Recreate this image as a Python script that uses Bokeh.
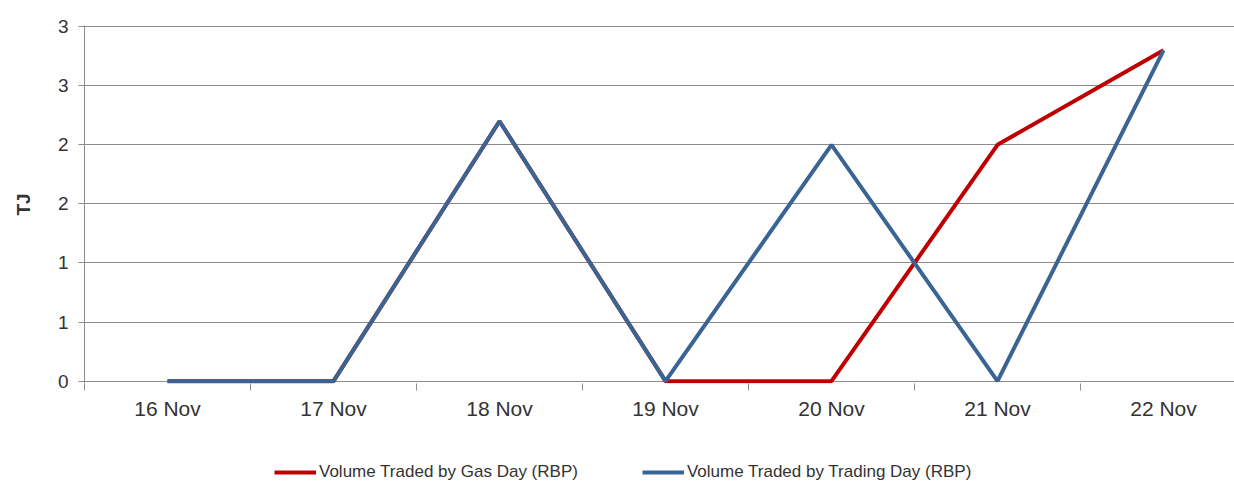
from bokeh.plotting import figure
from bokeh.layouts import column
from bokeh.models import (Range1d, FixedTicker, Legend, LegendItem, ColumnDataSource)
from bokeh.embed import file_html
from bokeh.resources import INLINE

# ---- data ----
categories = ["16 Nov", "17 Nov", "18 Nov", "19 Nov", "20 Nov", "21 Nov", "22 Nov"]
gas_day = [0.0, 0.0, 2.2, 0.0, 0.0, 2.0, 2.8]
trading_day = [0.0, 0.0, 2.2, 0.0, 2.0, 0.0, 2.8]
y_ticks = [0, 0.5, 1.0, 1.5, 2.0, 2.5, 3.0]
y_tick_labels = ["0", "1", "1", "2", "2", "3", "3"]
series_names = ["Volume Traded by Gas Day (RBP)", "Volume Traded by Trading Day (RBP)"]

FONT = "Liberation Sans"
RED = "#C00000"
BLUE = "#3A6494"
GRID = "#8C8C8C"
TEXT = "#333333"
LW = 4

idx = list(range(len(categories)))
src = ColumnDataSource(dict(x=idx, gas=gas_day, trade=trading_day))

p = figure(width=1234, height=440, output_backend="svg", toolbar_location=None,
           x_range=Range1d(-0.5, -0.5 + 1150 / 166.0), y_range=Range1d(-0.02, 3.01),
           min_border_left=84, min_border_right=0, min_border_top=25, min_border_bottom=57)
p.outline_line_color = None
p.background_fill_color = "white"

r_gas = p.line("x", "gas", source=src, line_color=RED, line_width=LW)
r_trade = p.line("x", "trade", source=src, line_color=BLUE, line_width=LW)

# x axis
xa = p.xaxis[0]
xa.ticker = FixedTicker(ticks=idx, minor_ticks=[i - 0.5 for i in range(len(categories) + 1)])
xa.major_label_overrides = {i: c for i, c in zip(idx, categories)}
xa.major_tick_line_color = None
xa.major_tick_out = 0
xa.major_tick_in = 0
xa.minor_tick_line_color = GRID
xa.minor_tick_out = 7
xa.minor_tick_in = 0
xa.axis_line_color = None
xa.major_label_text_font = FONT
xa.major_label_text_font_size = "21px"
xa.major_label_text_color = TEXT
xa.major_label_standoff = 6

# y axis
ya = p.yaxis[0]
ya.ticker = FixedTicker(ticks=y_ticks, minor_ticks=[])
ya.major_label_overrides = {t: l for t, l in zip(y_ticks, y_tick_labels)}
ya.axis_line_color = GRID
ya.major_tick_line_color = GRID
ya.major_tick_out = 6
ya.major_tick_in = 0
ya.minor_tick_line_color = None
ya.major_label_text_font = FONT
ya.major_label_text_font_size = "19px"
ya.major_label_text_color = TEXT
ya.major_label_standoff = 10
ya.axis_label = "TJ"
ya.axis_label_text_font = FONT
ya.axis_label_text_font_style = "bold"
ya.axis_label_text_font_size = "19px"
ya.axis_label_text_color = TEXT
ya.axis_label_standoff = 21

p.xgrid.grid_line_color = None
p.ygrid.grid_line_color = GRID
p.ygrid.grid_line_width = 1

# ---- legend strip (separate small figure below the chart) ----
# Its ranges are set so that the proxy series lie outside its view; only the legend shows.
lg = figure(width=1234, height=44, output_backend="svg", toolbar_location=None,
            x_axis_type=None, y_axis_type=None,
            x_range=Range1d(0, 1), y_range=Range1d(-20, -19),
            min_border_left=0, min_border_right=0, min_border_top=0, min_border_bottom=0)
lg.outline_line_color = None
lg.xgrid.grid_line_color = None
lg.ygrid.grid_line_color = None
l_gas = lg.line("x", "gas", source=src, line_color=RED, line_width=LW)
l_trade = lg.line("x", "trade", source=src, line_color=BLUE, line_width=LW)

legend = Legend(items=[LegendItem(label=series_names[0], renderers=[l_gas]),
                       LegendItem(label=series_names[1], renderers=[l_trade])],
                orientation="horizontal", location=(190, 2),
                border_line_color=None, background_fill_alpha=0,
                glyph_width=42, label_standoff=3, spacing=64,
                label_text_font=FONT, label_text_font_size="17px", label_text_color=TEXT,
                margin=0, padding=4)
lg.add_layout(legend, "center")

layout = column(p, lg, spacing=0)
open("out.html", "w").write(file_html(layout, INLINE))
